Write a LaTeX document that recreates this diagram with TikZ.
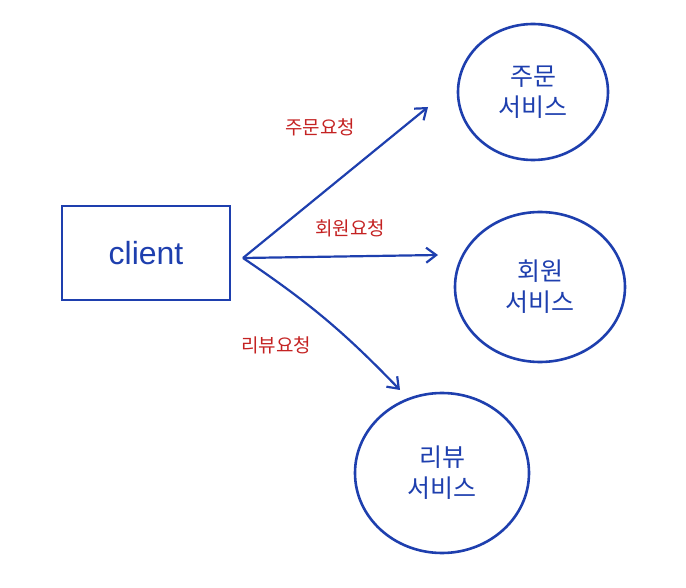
\documentclass[tikz,border=0pt]{standalone}
\usepackage{fontspec}
\setmainfont{Liberation Sans}
\newfontfamily\kr{Noto Sans CJK KR}
\usetikzlibrary{shapes.geometric,arrows.meta}
\definecolor{pen}{HTML}{1E3FAE}
\definecolor{redpen}{HTML}{C42222}
\tikzset{
  svc/.style={draw=pen, line width=2.6pt, ellipse, text=pen, font=\kr\fontsize{25}{31}\selectfont, align=center},
  box/.style={draw=pen, line width=2.4pt, minimum width=168pt, minimum height=94pt, text=pen, font=\fontsize{32}{36}\selectfont},
  req/.style={-{Straight Barb[length=10pt,width=15pt]}, draw=pen, line width=2.2pt},
  lbl/.style={text=redpen, font=\kr\fontsize{19}{22}\selectfont}
}
\begin{document}
\begin{tikzpicture}[x=1pt,y=-1pt]
\useasboundingbox (0,0) rectangle (686,588);
\node[box] (client) at (146,253) {client};
\coordinate (src) at (243,258);
\node[svc, minimum width=150pt, minimum height=136pt] (order) at (533,92) {주문\\서비스};
\node[svc, minimum width=170pt, minimum height=150pt] (member) at (540,287) {회원\\서비스};
\node[svc, minimum width=174pt, minimum height=160pt] (review) at (442,473) {리뷰\\서비스};
\coordinate (t1) at (428,107);
\coordinate (t2) at (438,255);
\coordinate (t3) at (400,390);
\draw[req] (src) -- (t1);
\draw[req] (src) -- (t2);
\draw[req] (src) to[bend left=6] (t3);
\node[lbl] (l1) at (320,127) {주문요청};
\node[lbl] (l2) at (350,228) {회원요청};
\node[lbl] (l3) at (276,345) {리뷰요청};
\end{tikzpicture}
\end{document}
